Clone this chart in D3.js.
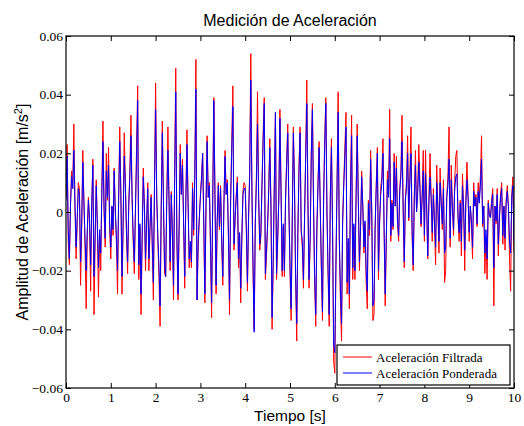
<!DOCTYPE html>
<html>
<head>
<meta charset="utf-8">
<script src="https://cdn.jsdelivr.net/npm/d3@7"></script>
<style>
  body { margin: 0; background: #fff; }
  svg { display: block; }
</style>
</head>
<body>
<div id="chart"></div>
<script>
'use strict';

// one sample every 0.025 s, values in thousandths of m/s^2
const sampleStep = 0.025;
const unit = 0.001;

const filtrada = [
  5, 23, -10, -18, 2, 14, 8, 30, 2, -16, -4, 10, 8, -25, -6, 21, 3, -12, -33, -8, 5, -4, -27, 2, 18, -35, -10, 11, -6, -29, -8, -20, 8, 31, 0, -12, 20, 4, 22, -6,
  -16, 2, -8, 15, 0, -10, -28, 4, 29, 6, -28, -5, 27, 10, -8, -21, 2, 14, 33, 5, -10, -21, 0, 22, 43, -23, -5, -35, -10, 15, 2, -20, -4, 10, -20, -6, 6, -12, -30, 8,
  44, 5, -10, -22, -39, 0, 31, 4, -21, -22, 6, 29, 4, -20, 7, -8, -30, 12, 49, -10, -30, -6, 23, 6, 18, -4, -26, 4, 28, 3, -19, -12, -19, 10, -8, 14, 52, -30, -12, -3,
  6, 12, 20, -4, -31, 2, 26, 5, 10, -12, -36, 4, 39, 6, -28, -4, 10, -6, 9, -10, -25, 3, 21, 6, 11, -8, -35, 4, 24, 43, -13, -2, 6, 12, -19, -8, -31, -10, 7, 10,
  9, -6, -27, -2, 14, 54, 8, -20, -40, -4, 12, 41, 6, -13, -8, 10, 26, 39, -23, -15, -5, 8, 25, 2, -40, -18, 10, 34, -23, -10, 5, 35, 8, -22, -5, -22, 4, 18, 30, 2,
  -20, -37, -4, 29, 10, -23, -44, -8, 15, 29, -7, -12, -26, -2, 20, 45, 4, -26, -10, 20, 37, 3, -24, -39, -6, 10, 24, 2, -20, -37, 4, 25, 39, 0, -22, -39, 6, 25, -6, -51,
  -55, -20, 10, 41, -9, -30, -44, -4, 10, 22, 34, -28, -10, -33, 8, 33, -23, -5, -23, 6, 30, 4, -20, -6, 14, 2, -14, -4, -24, -33, 4, -8, 21, 0, -37, -35, -6, 10, 22, -23,
  -4, 8, 12, 25, -6, -32, -10, 14, 6, 35, -10, 4, -6, 20, 2, 19, -4, -10, 8, 14, 33, 2, -19, 5, 10, 26, -3, 12, 29, -8, -20, 6, 21, 0, 8, 23, 10, -5, 6, 21,
  -10, 21, 2, -16, 4, 20, 6, -10, 8, -4, -18, 16, 2, -14, 15, 4, -6, 11, -24, -20, 6, 12, 29, -12, 16, 2, -8, 10, 19, 21, -2, -10, 4, -15, 13, 2, -20, 4, 17, 6,
  -10, 2, -4, -16, 10, 2, 6, -5, 10, 4, 12, 26, -5, 2, -21, -8, -23, 4, -1, -2, 4, 8, -32, 2, -4, 8, -15, -2, 6, 10, -11, 2, -13, 4, 9, 2, -16, -27, 6, 12,
  -14
];

const ponderada = [
  4, 19, -6, -16, 2, 12, 8, 21, 3, -12, -2, 8, 6, -17, -4, 17, 4, -9, -20, -6, 4, -2, -18, 3, 16, -22, -8, 9, -4, -19, -6, -14, 6, 24, 1, -9, 14, 5, 16, -4,
  -12, 2, -6, 14, 1, -8, -20, 4, 24, 6, -22, -4, 19, 9, -6, -17, 2, 12, 26, 5, -8, -17, 1, 18, 38, -18, -4, -28, -8, 12, 2, -16, -3, 8, -16, -5, 5, -10, -24, 8,
  35, 5, -8, -18, -32, 1, 27, 4, -18, -22, 5, 21, 4, -17, 6, -6, -25, 11, 41, -8, -28, -5, 20, 6, 16, -3, -22, 4, 23, 3, -16, -10, -17, 8, -6, 13, 42, -30, -10, -2,
  5, 11, 20, -3, -28, 2, 24, 5, 9, -10, -31, 4, 38, 6, -25, -3, 9, -5, 8, -9, -22, 3, 19, 6, 10, -7, -30, 4, 21, 36, -11, -2, 5, 10, -16, -7, -26, -8, 6, 8,
  8, -5, -24, -2, 12, 45, 7, -18, -41, -4, 10, 30, 5, -11, -7, 9, 24, 37, -21, -13, -4, 7, 22, 2, -36, -16, 9, 34, -21, -9, 4, 32, 7, -20, -4, -20, 4, 16, 27, 2,
  -18, -33, -3, 27, 9, -21, -38, -7, 13, 27, -6, -10, -23, -2, 18, 37, 4, -23, -9, 19, 35, 3, -22, -35, -5, 9, 22, 2, -18, -34, 4, 23, 37, 0, -20, -35, 5, 22, -5, -45,
  -48, -18, 9, 34, -8, -26, -38, -3, 9, 19, 29, -24, -9, -28, 7, 26, -19, -4, -20, 5, 26, 4, -17, -5, 12, 2, -12, -3, -20, -27, 3, -6, 18, 0, -32, -30, -5, 8, 20, -20,
  -3, 6, 10, 20, -5, -28, -8, 11, 5, 25, -8, 3, -5, 17, 2, 15, -3, -8, 7, 12, 24, 2, -17, 4, 8, 20, -2, 10, 20, -6, -18, 5, 16, 0, 6, 17, 8, -4, 5, 14,
  -8, 13, 2, -15, 3, 12, 5, -7, 6, -3, -12, 10, 2, -10, 10, 3, -4, 8, -14, -12, 5, 9, 18, -9, 11, 2, -6, 7, 12, 13, -1, -7, 3, -10, 9, 2, -13, 3, 11, 5,
  -7, 2, -3, -12, 7, 2, 5, -4, 7, 3, 9, 18, -4, 2, -14, -6, -16, 3, -1, -2, 3, 6, -19, 2, -3, 6, -11, -2, 5, 8, -8, 2, -9, 3, 7, 2, -10, -14, 5, 9,
  -10
];

const seriesNames = ['Aceleración Filtrada', 'Aceleración Ponderada'];
const xTicks = [0, 1, 2, 3, 4, 5, 6, 7, 8, 9, 10];
const yTicks = [-0.06, -0.04, -0.02, 0, 0.02, 0.04, 0.06];

function makeChart() {
  var width = 524;
  var height = 426;
  var left = 66, right = 514, top = 36, bottom = 388;
  var colours = ['#ff0000', '#0000ff'];
  var serif = "'Liberation Serif', 'Times New Roman', serif";
  var sans = "'Liberation Sans', Arial, sans-serif";

  var x = d3.scaleLinear().domain([0, 10]).range([left, right]);
  var y = d3.scaleLinear().domain([-0.06, 0.06]).range([bottom, top]);

  var svg = d3.select('#chart')
              .append('svg')
              .attr('width', width)
              .attr('height', height);

  svg.append('rect')
     .attr('width', width)
     .attr('height', height)
     .attr('fill', '#fff');

  svg.append('clipPath')
     .attr('id', 'plot-clip')
     .append('rect')
     .attr('x', left)
     .attr('y', top)
     .attr('width', right - left)
     .attr('height', bottom - top);

  var line = d3.line()
               .x(function(d, i) { return x(i * sampleStep); })
               .y(function(d) { return y(d * unit); });

  var plot = svg.append('g').attr('clip-path', 'url(#plot-clip)');
  [filtrada, ponderada].forEach(function(series, k) {
    plot.append('path')
        .datum(series)
        .attr('d', line)
        .attr('fill', 'none')
        .attr('stroke', colours[k])
        .attr('stroke-width', 1);
  });

  // axes with inward ticks on all four sides
  function styleAxis(g) {
    g.select('.domain').remove();
    g.selectAll('.tick line').attr('stroke', '#000');
    g.selectAll('.tick text')
     .attr('fill', '#000')
     .style('font-family', serif)
     .style('font-size', '13.5px');
  }

  svg.append('g')
     .attr('transform', 'translate(0,' + bottom + ')')
     .call(d3.axisBottom(x).tickValues(xTicks).tickSizeInner(-5).tickSizeOuter(0).tickPadding(4))
     .call(styleAxis);

  svg.append('g')
     .attr('transform', 'translate(0,' + top + ')')
     .call(d3.axisTop(x).tickValues(xTicks).tickSizeInner(-5).tickSizeOuter(0).tickFormat(''))
     .call(styleAxis);

  svg.append('g')
     .attr('transform', 'translate(' + left + ',0)')
     .call(d3.axisLeft(y).tickValues(yTicks).tickSizeInner(-5).tickSizeOuter(0).tickPadding(3)
             .tickFormat(function(d) { return d === 0 ? '0' : d3.format('.2f')(d); }))
     .call(styleAxis);

  svg.append('g')
     .attr('transform', 'translate(' + right + ',0)')
     .call(d3.axisRight(y).tickValues(yTicks).tickSizeInner(-5).tickSizeOuter(0).tickFormat(''))
     .call(styleAxis);

  svg.append('rect')
     .attr('x', left)
     .attr('y', top)
     .attr('width', right - left)
     .attr('height', bottom - top)
     .attr('fill', 'none')
     .attr('stroke', '#000')
     .attr('stroke-width', 1.2);

  // titles
  svg.append('text')
     .attr('x', (left + right) / 2)
     .attr('y', 26)
     .attr('text-anchor', 'middle')
     .style('font-family', sans)
     .style('font-size', '16px')
     .text('Medición de Aceleración');

  svg.append('text')
     .attr('x', (left + right) / 2)
     .attr('y', 421)
     .attr('text-anchor', 'middle')
     .style('font-family', sans)
     .style('font-size', '15.5px')
     .text('Tiempo [s]');

  var yLabel = svg.append('text')
                  .attr('transform', 'translate(28,' + ((top + bottom) / 2) + ') rotate(-90)')
                  .attr('text-anchor', 'middle')
                  .style('font-family', sans)
                  .style('font-size', '16px');
  yLabel.append('tspan').text('Amplitud de Aceleración [m/s');
  yLabel.append('tspan').attr('dy', -6).style('font-size', '11px').text('2');
  yLabel.append('tspan').attr('dy', 6).text(']');

  // legend
  var legend = svg.append('g');
  legend.append('rect')
        .attr('x', 337)
        .attr('y', 345)
        .attr('width', 173)
        .attr('height', 40)
        .attr('fill', '#fff')
        .attr('stroke', '#000')
        .attr('stroke-width', 1.2);

  seriesNames.forEach(function(name, k) {
    var ly = 357 + k * 16;
    legend.append('line')
          .attr('x1', 343)
          .attr('x2', 372)
          .attr('y1', ly)
          .attr('y2', ly)
          .attr('stroke', colours[k])
          .attr('stroke-width', 1);
    legend.append('text')
          .attr('x', 376)
          .attr('y', ly)
          .attr('dy', '0.35em')
          .style('font-family', serif)
          .style('font-size', '13px')
          .text(name);
  });
}

makeChart();
</script>
</body>
</html>
